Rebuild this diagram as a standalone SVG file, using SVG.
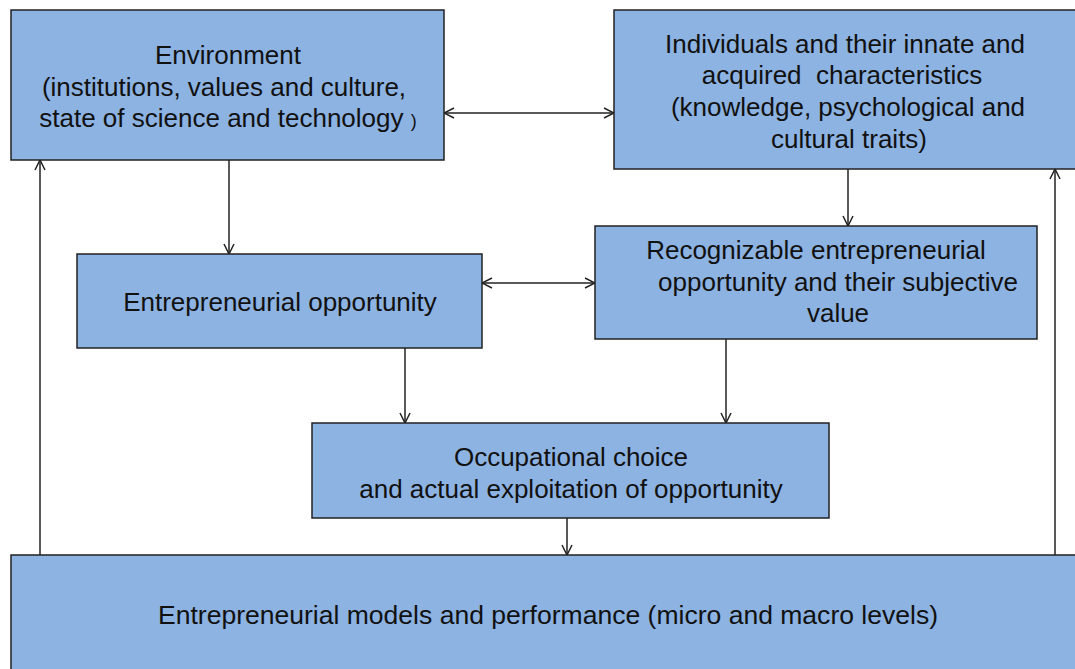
<svg xmlns="http://www.w3.org/2000/svg" width="1075" height="669" viewBox="0 0 1075 669">
<style>
.box{fill:#8DB3E2;stroke:#222;stroke-width:1.5}
.t{font-family:"Liberation Sans",Arial,sans-serif;font-size:26px;fill:#111;text-anchor:middle}
.c{stroke:#222;stroke-width:1.5;fill:none}
</style>
<defs>
<marker id="ah" viewBox="0 0 12 12" refX="11" refY="6" markerWidth="12" markerHeight="12" markerUnits="userSpaceOnUse" orient="auto-start-reverse">
<path d="M1,1 L11,6 L1,11" fill="none" stroke="#222" stroke-width="1.5"/>
</marker>
</defs>
<rect width="1075" height="669" fill="#fff"/>
<g id="connectors">
<line class="c" x1="444" y1="113" x2="614" y2="113" marker-start="url(#ah)" marker-end="url(#ah)"/>
<line class="c" x1="482" y1="283" x2="595" y2="283" marker-start="url(#ah)" marker-end="url(#ah)"/>
<line class="c" x1="229" y1="160" x2="229" y2="254" marker-end="url(#ah)"/>
<line class="c" x1="848" y1="169" x2="848" y2="226" marker-end="url(#ah)"/>
<line class="c" x1="405" y1="348" x2="405" y2="423" marker-end="url(#ah)"/>
<line class="c" x1="726" y1="339" x2="726" y2="423" marker-end="url(#ah)"/>
<line class="c" x1="567" y1="518" x2="567" y2="555" marker-end="url(#ah)"/>
<line class="c" x1="40" y1="555" x2="40" y2="160" marker-end="url(#ah)"/>
<line class="c" x1="1055" y1="555" x2="1055" y2="169" marker-end="url(#ah)"/>
</g>
<g id="environment">
<rect class="box" x="11" y="10" width="433" height="150"/>
<text class="t" x="228" y="64">Environment</text>
<text class="t" x="224" y="96">(institutions, values and culture,</text>
<text class="t" x="228" y="127">state of science and technology <tspan font-size="18">)</tspan></text>
</g>
<g id="individuals">
<rect class="box" x="614" y="10" width="462" height="159"/>
<text class="t" x="845" y="53">Individuals and their innate and</text>
<text class="t" x="842" y="84" xml:space="preserve">acquired  characteristics</text>
<text class="t" x="848" y="116">(knowledge, psychological and</text>
<text class="t" x="849" y="148">cultural traits)</text>
</g>
<g id="opportunity">
<rect class="box" x="77" y="254" width="405" height="94"/>
<text class="t" x="280" y="311">Entrepreneurial opportunity</text>
</g>
<g id="recognizable">
<rect class="box" x="595" y="226" width="442" height="113"/>
<text class="t" x="816" y="259">Recognizable entrepreneurial</text>
<text class="t" x="838" y="291">opportunity and their subjective</text>
<text class="t" x="838" y="322">value</text>
</g>
<g id="occupational">
<rect class="box" x="312" y="423" width="517" height="95"/>
<text class="t" x="571" y="466">Occupational choice</text>
<text class="t" x="571" y="498">and actual exploitation of opportunity</text>
</g>
<g id="models">
<rect class="box" x="11" y="555" width="1070" height="120"/>
<text class="t" x="548" y="624" textLength="780" lengthAdjust="spacingAndGlyphs">Entrepreneurial models and performance (micro and macro levels)</text>
</g>
</svg>
